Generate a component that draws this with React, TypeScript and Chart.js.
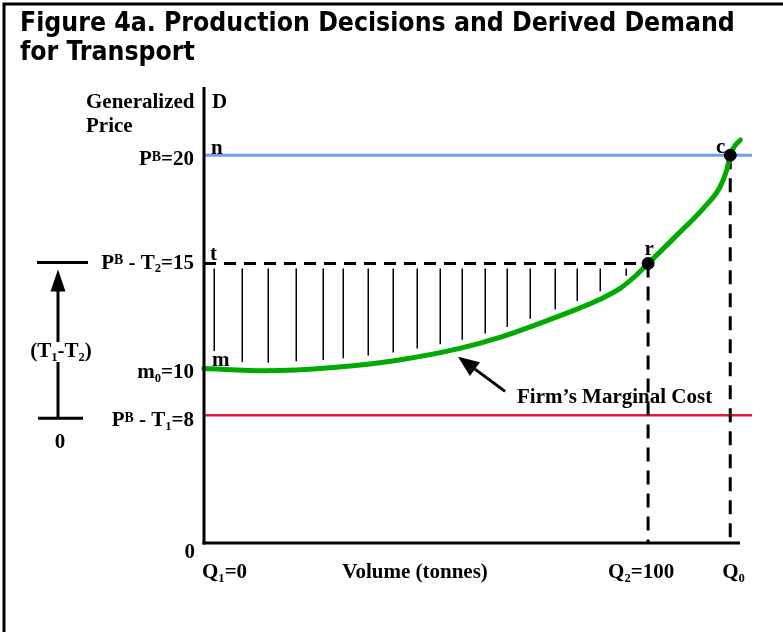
import React, { useEffect, useRef } from "react";
import { Chart, registerables } from "chart.js";

Chart.register(...registerables);

type Seg = [string, "n" | "sub" | "sup"];

const TITLE_LINES = ["Figure 4a. Production Decisions and Derived Demand", "for Transport"];

// Firm's marginal cost curve: volume (tonnes) vs generalized price
const mcVolume = [0, 14, 29, 44, 57.6, 66.6, 75.6, 84.7, 89.2, 93.7, 97, 100, 106.5, 112.5, 116.2, 117.7, 118.5, 119.6, 120.8];
const mcPrice = [10.15, 10.05, 10.2, 10.55, 11.08, 11.59, 12.24, 12.95, 13.35, 13.85, 14.4, 15, 16.31, 17.56, 18.53, 19.31, 20, 20.45, 20.7];

const priceB = 20;
const priceLessT2 = 15;
const mcStart = 10;
const priceLessT1 = 8;
const volumeQ1 = 0;
const volumeQ2 = 100;
const volumeQ0 = 118.5;
const axisMaxVolume = 120.7;
const lineEndVolume = 123.4;
const priceMin = 2.1;
const priceMax = 23.1;

const hatchVolumes = [2.25, 8.56, 14.4, 20.7, 26.8, 31.3, 36.9, 42.6, 48.0, 53.1, 58.1, 63.3, 68.2, 73.4, 79.0, 84.0, 89.2, 95.0];

const yTickValues = [priceB, priceLessT2, mcStart, priceLessT1];
const yTickTexts: Seg[][] = [
  [["P", "n"], ["B", "sup"], ["=20", "n"]],
  [["P", "n"], ["B", "sup"], [" - T", "n"], ["2", "sub"], ["=15", "n"]],
  [["m", "n"], ["0", "sub"], ["=10", "n"]],
  [["P", "n"], ["B", "sup"], [" - T", "n"], ["1", "sub"], ["=8", "n"]],
];

const xTickValues = [volumeQ1, volumeQ2, volumeQ0];
const xTickTexts: Seg[][] = [
  [["Q", "n"], ["1", "sub"], ["=0", "n"]],
  [["Q", "n"], ["2", "sub"], ["=100", "n"]],
  [["Q", "n"], ["0", "sub"]],
];

const SERIF = '"Liberation Serif", "Times New Roman", serif';
const TITLE_FONT = '"DejaVu Sans Condensed", "DejaVu Sans", sans-serif';
const FS = 21;

const BLUE = "#6f9cf0";
const RED = "#e6163e";
const GREEN = "#00aa00";

function drawRich(ctx: CanvasRenderingContext2D, segs: Seg[], x: number, y: number, align: "left" | "right" | "center", size = FS) {
  const widths: number[] = [];
  let total = 0;
  const sizeOf = (k: string) => (k === "n" ? size : k === "sup" ? size * 0.66 : size * 0.6);
  for (const [t, k] of segs) {
    ctx.font = `bold ${sizeOf(k)}px ${SERIF}`;
    const w = ctx.measureText(t).width;
    widths.push(w);
    total += w;
  }
  let cx = align === "left" ? x : align === "right" ? x - total : x - total / 2;
  ctx.textAlign = "left";
  ctx.textBaseline = "alphabetic";
  segs.forEach(([t, k], i) => {
    ctx.font = `bold ${sizeOf(k)}px ${SERIF}`;
    const dy = k === "sub" ? size * 0.18 : k === "sup" ? -size * 0.21 : 0;
    ctx.fillText(t, cx, y + dy);
    cx += widths[i];
  });
}

function mcAt(v: number) {
  for (let i = 1; i < mcVolume.length; i++) {
    if (v <= mcVolume[i]) {
      const f = (v - mcVolume[i - 1]) / (mcVolume[i] - mcVolume[i - 1]);
      return mcPrice[i - 1] + f * (mcPrice[i] - mcPrice[i - 1]);
    }
  }
  return mcPrice[mcPrice.length - 1];
}

function line(ctx: CanvasRenderingContext2D, x1: number, y1: number, x2: number, y2: number) {
  ctx.beginPath();
  ctx.moveTo(x1, y1);
  ctx.lineTo(x2, y2);
  ctx.stroke();
}

const figurePlugin = {
  id: "figure",
  beforeDraw(chart: any) {
    const ctx: CanvasRenderingContext2D = chart.ctx;
    ctx.save();
    ctx.fillStyle = "#fff";
    ctx.fillRect(0, 0, chart.width, chart.height);
    // frame
    ctx.strokeStyle = "#000";
    ctx.lineWidth = 3;
    ctx.lineJoin = "miter";
    ctx.beginPath();
    ctx.moveTo(4, chart.height + 2);
    ctx.lineTo(4, 4);
    ctx.lineTo(chart.width + 2, 4);
    ctx.stroke();
    // title
    const base = 22;
    try { (ctx as any).fontStretch = "condensed"; } catch (e) {}
    ctx.font = `bold ${base}px ${TITLE_FONT}`;
    const w = ctx.measureText(TITLE_LINES[0]).width;
    const size = (base * 715) / w;
    ctx.font = `bold ${size}px ${TITLE_FONT}`;
    ctx.fillStyle = "#000";
    ctx.textAlign = "left";
    ctx.textBaseline = "alphabetic";
    ctx.fillText(TITLE_LINES[0], 20, 31);
    ctx.fillText(TITLE_LINES[1], 20, 60);
    try { (ctx as any).fontStretch = "normal"; } catch (e) {}
    ctx.restore();
  },
  beforeDatasetsDraw(chart: any) {
    const ctx: CanvasRenderingContext2D = chart.ctx;
    const xs = chart.scales.x;
    const ys = chart.scales.y;
    ctx.save();
    ctx.strokeStyle = "#000";
    ctx.lineWidth = 1.5;
    const top = ys.getPixelForValue(priceLessT2) + 5;
    hatchVolumes.forEach((v, i) => {
      const px = Math.round(xs.getPixelForValue(v)) + 0.25;
      const bottom = ys.getPixelForValue(mcAt(v)) - (i === 0 ? 18 : 8);
      if (bottom > top) line(ctx, px, top, px, bottom);
    });
    ctx.restore();
  },
  afterDatasetsDraw(chart: any) {
    const ctx: CanvasRenderingContext2D = chart.ctx;
    const xs = chart.scales.x;
    const ys = chart.scales.y;
    const x0 = xs.getPixelForValue(0);
    const yBottom = ys.getPixelForValue(priceMin);
    const yTop = ys.getPixelForValue(priceMax);
    ctx.save();
    ctx.strokeStyle = "#000";
    ctx.fillStyle = "#000";
    ctx.lineWidth = 3;
    ctx.lineCap = "butt";
    // axes
    line(ctx, x0, yTop - 1, x0, yBottom + 1.5);
    line(ctx, x0 - 1.5, yBottom, xs.getPixelForValue(axisMaxVolume), yBottom);

    // left bracket (T1 - T2)
    const bTop = ys.getPixelForValue(priceLessT2) - 1;
    const bBot = ys.getPixelForValue(priceLessT1) + 3;
    line(ctx, 37, bTop, 88, bTop);
    line(ctx, 38, bBot, 83, bBot);
    ctx.beginPath();
    ctx.moveTo(58, bTop + 7);
    ctx.lineTo(50.5, bTop + 29);
    ctx.lineTo(65.5, bTop + 29);
    ctx.closePath();
    ctx.fill();
    line(ctx, 58, bTop + 28, 58, 342);
    line(ctx, 58, 362, 58, bBot);
    drawRich(ctx, [["(T", "n"], ["1", "sub"], ["-T", "n"], ["2", "sub"], [")", "n"]], 61, 357, "center");
    drawRich(ctx, [["0", "n"]], 60, 448, "center");

    // arrow to marginal cost curve
    const tipX = xs.getPixelForValue(57.2);
    const tipY = ys.getPixelForValue(10.7);
    const tailX = xs.getPixelForValue(67.8);
    const tailY = ys.getPixelForValue(9.1);
    const ang = Math.atan2(tipY - tailY, tipX - tailX);
    const headLen = 21;
    const headW = 8.5;
    const bx = tipX - headLen * Math.cos(ang);
    const by = tipY - headLen * Math.sin(ang);
    line(ctx, tailX, tailY, bx, by);
    ctx.beginPath();
    ctx.moveTo(tipX, tipY);
    ctx.lineTo(bx + headW * Math.sin(ang), by - headW * Math.cos(ang));
    ctx.lineTo(bx - headW * Math.sin(ang), by + headW * Math.cos(ang));
    ctx.closePath();
    ctx.fill();
    drawRich(ctx, [["Firm\u2019s Marginal Cost", "n"]], 517, 403, "left");

    // y tick labels
    const yShift = [10, 5, 6, 11];
    yTickValues.forEach((v, i) => {
      drawRich(ctx, yTickTexts[i], 194, ys.getPixelForValue(v) + yShift[i], "right");
    });
    drawRich(ctx, [["0", "n"]], 195, 558, "right");

    // x tick labels
    const xShift = [-2, -40, -8];
    xTickValues.forEach((v, i) => {
      drawRich(ctx, xTickTexts[i], xs.getPixelForValue(v) + xShift[i], 578, "left");
    });
    drawRich(ctx, [["Volume (tonnes)", "n"]], 415, 578, "center");

    // axis title
    drawRich(ctx, [["Generalized", "n"]], 86, 108, "left");
    drawRich(ctx, [["Price", "n"]], 86, 132, "left");

    // point letters
    drawRich(ctx, [["D", "n"]], x0 + 8, 108, "left");
    drawRich(ctx, [["n", "n"]], x0 + 7, ys.getPixelForValue(priceB) - 1, "left");
    drawRich(ctx, [["t", "n"]], x0 + 6, ys.getPixelForValue(priceLessT2) - 4, "left");
    drawRich(ctx, [["m", "n"]], x0 + 8, ys.getPixelForValue(mcStart) - 6, "left");
    drawRich(ctx, [["r", "n"]], xs.getPixelForValue(volumeQ2) + 1, ys.getPixelForValue(priceLessT2) - 9, "center");
    drawRich(ctx, [["c", "n"]], xs.getPixelForValue(volumeQ0) - 5, ys.getPixelForValue(priceB) - 2, "right");
    ctx.restore();
  },
};

export default function App() {
  const ref = useRef<HTMLCanvasElement>(null);
  useEffect(() => {
    const canvas = ref.current;
    if (!canvas) return;
    const mcData = mcVolume.map((v, i) => ({ x: v, y: mcPrice[i] }));
    const chart = new Chart(canvas, {
      type: "scatter",
      data: {
        datasets: [
          {
            label: "points",
            data: [
              { x: volumeQ2, y: priceLessT2 },
              { x: volumeQ0, y: priceB },
            ],
            pointRadius: 6,
            pointBackgroundColor: "#000",
            pointBorderColor: "#000",
            showLine: false,
            clip: false,
          } as any,
          {
            label: "Firm's Marginal Cost",
            data: mcData,
            showLine: true,
            borderColor: GREEN,
            borderWidth: 5,
            pointRadius: 0,
            cubicInterpolationMode: "monotone",
            borderCapStyle: "round",
            clip: false,
          },
          {
            label: "t-r",
            data: [
              { x: 0, y: priceLessT2 },
              { x: volumeQ2, y: priceLessT2 },
            ],
            showLine: true,
            borderColor: "#000",
            borderWidth: 3,
            borderDash: [12, 8],
            pointRadius: 0,
            clip: false,
          },
          {
            label: "Q2",
            data: [
              { x: volumeQ2, y: priceLessT2 },
              { x: volumeQ2, y: priceMin },
            ],
            showLine: true,
            borderColor: "#000",
            borderWidth: 3,
            borderDash: [14, 9],
            pointRadius: 0,
            clip: false,
          },
          {
            label: "Q0",
            data: [
              { x: volumeQ0, y: priceB },
              { x: volumeQ0, y: priceMin },
            ],
            showLine: true,
            borderColor: "#000",
            borderWidth: 3,
            borderDash: [14, 9],
            pointRadius: 0,
            clip: false,
          },
          {
            label: "PB",
            data: [
              { x: 0, y: priceB },
              { x: lineEndVolume, y: priceB },
            ],
            showLine: true,
            borderColor: BLUE,
            borderWidth: 3,
            pointRadius: 0,
            clip: false,
          },
          {
            label: "PB-T1",
            data: [
              { x: 0, y: priceLessT1 },
              { x: lineEndVolume, y: priceLessT1 },
            ],
            showLine: true,
            borderColor: RED,
            borderWidth: 2.5,
            pointRadius: 0,
            clip: false,
          },
        ],
      },
      options: {
        animation: false,
        responsive: false,
        maintainAspectRatio: false,
        events: [],
        layout: { padding: { left: 204, right: 31, top: 88, bottom: 89 } },
        plugins: {
          legend: { display: false },
          tooltip: { enabled: false },
          title: { display: false },
        },
        scales: {
          x: { type: "linear", min: 0, max: lineEndVolume, display: false },
          y: { type: "linear", min: priceMin, max: priceMax, display: false },
        },
      },
      plugins: [figurePlugin],
    });
    return () => chart.destroy();
  }, []);
  return (
    <div style={{ position: "absolute", left: 0, top: 0, width: 783, height: 632, background: "#fff" }}>
      <canvas ref={ref} width={783} height={632} style={{ display: "block", width: 783, height: 632 }} />
    </div>
  );
}
